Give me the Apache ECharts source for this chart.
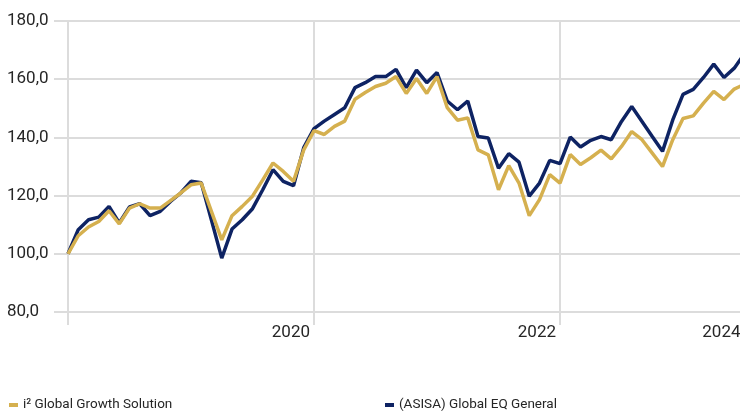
<!DOCTYPE html>
<html><head><meta charset="utf-8">
<script src="https://cdn.jsdelivr.net/npm/echarts@6/dist/echarts.min.js"></script>
<style>html,body{margin:0;padding:0;background:#fff}#c{width:740px;height:411px}</style>
</head><body><div id="c"></div>
<script>
const seriesNames = ['i² Global Growth Solution', '(ASISA) Global EQ General'];
const growthValues = [100,106.2,109.2,111.1,114.8,110.3,115.7,117.2,115.7,115.7,
  118.3,120.9,123.7,124.3,114.5,104.8,113.1,116.3,119.8,125.4,
  131.2,128.3,124.9,135.7,142.3,141.0,143.8,145.6,153.1,155.4,
  157.5,158.6,160.9,155.1,160.2,155.1,160.9,150.2,145.9,146.7,
  135.7,134.0,122.0,130.3,124.3,113.1,118.6,127.2,124.3,134.1,
  130.7,133.0,135.6,132.6,136.9,142.0,139.2,134.6,130.0,139.2,
  146.5,147.4,151.8,155.8,153.0,156.6,158.3];
const benchmarkValues = [100,108.3,111.7,112.6,116.3,110.6,116.1,117.2,113.1,114.6,
  118.0,120.9,124.9,124.4,111.5,98.5,108.5,111.7,115.5,122.0,
  128.9,124.9,123.4,136.5,143.0,145.6,147.9,150.2,157.1,158.8,
  160.9,160.9,163.4,157.1,163.1,158.8,162.3,152.5,149.5,152.5,
  140.3,139.8,129.4,134.4,131.5,119.8,124.3,132.1,131.0,140.1,
  136.7,139.0,140.3,139.2,145.5,150.6,145.5,140.3,135.2,146.0,
  154.8,156.5,160.6,165.2,160.6,163.8,168.8];
const gridLineIndex = [0, 24, 48];
const xLabelIndex = [24, 48, 66];
const xLabelText = ['2020', '2022', '2024'];
const yMin = 80, yMax = 180, yStep = 20;

const categories = [];
for (let i = 0; i < growthValues.length; i++) {
  categories.push((2018 + Math.floor(i / 12)) + '-' + String(i % 12 + 1).padStart(2, '0'));
}

const FONT = "Roboto, 'Liberation Sans', sans-serif";
const TEXT = '#262626';
const GRID = '#dcdcdc';
const GOLD = '#d5b04f';
const NAVY = '#0e2363';

const chart = echarts.init(document.getElementById('c'));
chart.setOption({
  animation: false,
  backgroundColor: '#fff',
  grid: { left: 68, right: -4.5, top: 21, bottom: 99, containLabel: false, outerBoundsMode: 'none' },
  xAxis: {
    type: 'category', data: categories, boundaryGap: false,
    axisLine: { show: false },
    axisTick: { show: true, length: 13, interval: (i) => gridLineIndex.includes(i), lineStyle: { color: GRID, width: 2 } },
    splitLine: { show: true, interval: (i) => gridLineIndex.includes(i), lineStyle: { color: GRID, width: 2 } },
    axisLabel: {
      interval: (i) => xLabelIndex.includes(i),
      formatter: (v, i) => xLabelText[xLabelIndex.indexOf(i)] || '',
      align: 'right', margin: 12, padding: [0, 4, 0, 0],
      fontSize: 17, color: TEXT, fontFamily: FONT
    }
  },
  yAxis: {
    type: 'value', min: yMin, max: yMax, interval: yStep,
    axisLine: { show: false },
    axisTick: { show: true, length: 14, lineStyle: { color: GRID, width: 2 } },
    splitLine: { show: true, lineStyle: { color: GRID, width: 2 } },
    axisLabel: {
      formatter: (v) => v.toFixed(1).replace('.', ','),
      align: 'left', margin: 61, fontSize: 17, color: TEXT, fontFamily: FONT
    }
  },
  legend: [
    { data: [seriesNames[0]], left: 4, top: 393, icon: 'rect', itemWidth: 9, itemHeight: 4, selectedMode: false,
      textStyle: { fontSize: 13.5, color: TEXT, fontFamily: FONT } },
    { data: [seriesNames[1]], left: 380, top: 393, icon: 'rect', itemWidth: 9, itemHeight: 4, selectedMode: false,
      textStyle: { fontSize: 13.5, color: TEXT, fontFamily: FONT } }
  ],
  series: [
    { name: seriesNames[1], type: 'line', data: benchmarkValues, symbol: 'none', color: NAVY,
      lineStyle: { width: 3.5, color: NAVY }, z: 2 },
    { name: seriesNames[0], type: 'line', data: growthValues, symbol: 'none', color: GOLD,
      lineStyle: { width: 3.5, color: GOLD }, z: 3 }
  ]
});
</script>
</body></html>
